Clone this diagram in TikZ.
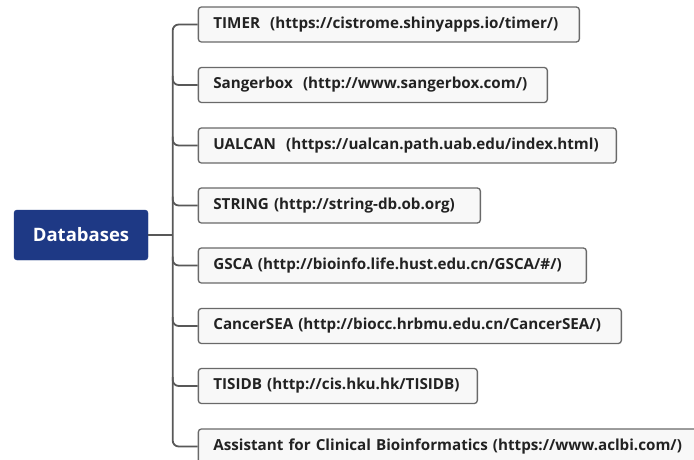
\documentclass[tikz,border=0pt]{standalone}
\usepackage{fontspec}
\setmainfont{Open Sans}
\usetikzlibrary{calc}
\definecolor{navy}{RGB}{30,57,133}
\definecolor{boxline}{RGB}{105,105,105}
\definecolor{boxfill}{RGB}{248,248,248}
\definecolor{conncol}{RGB}{88,88,88}
\definecolor{txtcol}{RGB}{34,34,34}
\begin{document}
\begin{tikzpicture}[x=1pt,y=-1pt,
  root/.style={fill=navy, draw=navy, rounded corners=3pt, text=white,
    minimum width=134pt, minimum height=50pt, inner sep=0pt,
    font=\bfseries\fontsize{18.5}{20}\selectfont},
  item/.style={draw=boxline, fill=boxfill, line width=1.3pt, rounded corners=3pt,
    minimum height=35pt, anchor=west, inner xsep=15pt, inner ysep=0pt,
    align=left, text=txtcol, font=\bfseries\fontsize{15.2}{17}\selectfont},
  conn/.style={draw=conncol, line width=1.8pt, rounded corners=6pt}]
\useasboundingbox (0,0) rectangle (694,460);
\clip (0,0) rectangle (694,460);
\fill[white] (0,0) rectangle (694,460);
\node[root] (db) at (81,235) {Databases};
\coordinate (trunk) at (172.7,235);
\node[item, text width=351pt] (b1) at (197.7,24.5) {TIMER\ \ (https://cistrome.shinyapps.io/timer/)};
\node[item, text width=319pt] (b2) at (197.7,85) {Sangerbox\ \ (http://www.sangerbox.com/)};
\node[item, text width=388pt] (b3) at (197.7,145.5) {UALCAN\ \ (https://ualcan.path.uab.edu/index.html)};
\node[item, text width=252pt] (b4) at (197.7,205.5) {STRING (http://string-db.ob.org)};
\node[item, text width=358pt] (b5) at (197.7,265.5) {GSCA (http://bioinfo.life.hust.edu.cn/GSCA/\#/)};
\node[item, text width=393pt] (b6) at (197.7,326) {CancerSEA (http://biocc.hrbmu.edu.cn/CancerSEA/)};
\node[item, text width=249pt] (b7) at (197.7,386) {TISIDB (http://cis.hku.hk/TISIDB)};
\node[item, text width=480pt] (b8) at (197.7,446.5) {Assistant for Clinical Bioinformatics (https://www.aclbi.com/)};
\draw[conn] (db.east) -- (trunk);
\draw[conn] (b1.west) -| (trunk) |- (b8.west);
\foreach \b in {b2,b3,b4,b5,b6,b7}{
  \draw[conn] ($(trunk |- \b.west)+(0,-9)$) |- (\b.west);
}
\end{tikzpicture}
\end{document}
